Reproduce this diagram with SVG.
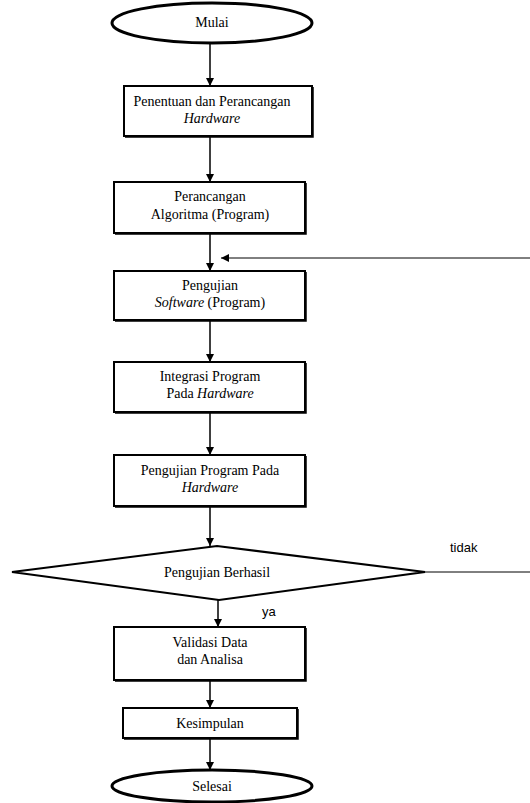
<svg xmlns="http://www.w3.org/2000/svg" width="530" height="803" viewBox="0 0 530 803">
  <style>
    .box { fill: #fff; stroke: #000; stroke-width: 2; }
    .shade { fill: none; stroke: #000; stroke-width: 1.5; }
    .term { fill: #fff; stroke: #000; stroke-width: 3; }
    .dec { fill: #fff; stroke: #000; stroke-width: 2; }
    .lbl { font-family: "Liberation Serif", "Times New Roman", Times, serif; font-size: 14px; fill: #000; text-anchor: middle; }
    .it { font-style: italic; }
    .note { font-family: "Liberation Sans", Arial, sans-serif; font-size: 13px; fill: #000; }
    .edge { fill: none; stroke: #000; stroke-width: 1.5; }
    .thin { fill: none; stroke: #000; stroke-width: 1; }
  </style>
  <defs>
    <marker id="arr" viewBox="0 0 10 10" refX="10" refY="5" markerWidth="8" markerHeight="8" markerUnits="userSpaceOnUse" orient="auto">
      <path d="M0,0 L10,5 L0,10 z" fill="#000"/>
    </marker>
  </defs>

  <!-- connectors -->
  <g id="connectors">
    <line class="edge" x1="210" y1="44" x2="210" y2="86" marker-end="url(#arr)"/>
    <line class="edge" x1="210" y1="137" x2="210" y2="182" marker-end="url(#arr)"/>
    <line class="edge" x1="210" y1="234" x2="210" y2="271" marker-end="url(#arr)"/>
    <line class="thin" x1="530" y1="258" x2="221" y2="258" marker-end="url(#arr)"/>
    <line class="edge" x1="210" y1="321" x2="210" y2="362" marker-end="url(#arr)"/>
    <line class="edge" x1="210" y1="413" x2="210" y2="455" marker-end="url(#arr)"/>
    <line class="edge" x1="210" y1="507" x2="210" y2="546" marker-end="url(#arr)"/>
    <line class="thin" x1="425" y1="572" x2="530" y2="572"/>
    <line class="edge" x1="218" y1="600" x2="218" y2="627" marker-end="url(#arr)"/>
    <line class="edge" x1="210" y1="681" x2="210" y2="708" marker-end="url(#arr)"/>
    <line class="edge" x1="210" y1="739" x2="210" y2="770" marker-end="url(#arr)"/>
    <text class="note" x="450" y="552">tidak</text>
    <text class="note" x="262" y="616">ya</text>
  </g>

  <!-- start -->
  <g id="mulai">
    <ellipse class="term" cx="212" cy="23" rx="100" ry="20"/>
    <text class="lbl" x="212" y="27">Mulai</text>
  </g>

  <g id="hardware">
    <rect class="box" x="124" y="86" width="188" height="50"/>
    <polyline class="shade" points="313,87 313,137 125,137"/>
    <text class="lbl" x="212" y="106">Penentuan dan Perancangan</text>
    <text class="lbl it" x="212" y="123">Hardware</text>
  </g>

  <g id="algoritma">
    <rect class="box" x="114" y="182" width="191" height="51"/>
    <polyline class="shade" points="306,183 306,234 115,234"/>
    <text class="lbl" x="210" y="201">Perancangan</text>
    <text class="lbl" x="210" y="219">Algoritma (Program)</text>
  </g>

  <g id="uji-software">
    <rect class="box" x="114" y="271" width="191" height="49"/>
    <polyline class="shade" points="306,272 306,321 115,321"/>
    <text class="lbl" x="210" y="290">Pengujian</text>
    <text class="lbl" x="210" y="307"><tspan class="it">Software</tspan> (Program)</text>
  </g>

  <g id="integrasi">
    <rect class="box" x="114" y="362" width="191" height="50"/>
    <polyline class="shade" points="306,363 306,413 115,413"/>
    <text class="lbl" x="210" y="381">Integrasi Program</text>
    <text class="lbl" x="210" y="398">Pada <tspan class="it">Hardware</tspan></text>
  </g>

  <g id="uji-hardware">
    <rect class="box" x="114" y="455" width="191" height="51"/>
    <polyline class="shade" points="306,456 306,507 115,507"/>
    <text class="lbl" x="210" y="475">Pengujian Program Pada</text>
    <text class="lbl it" x="210" y="492">Hardware</text>
  </g>

  <g id="berhasil">
    <polygon class="dec" points="12,572 217,546 425,572 219,600"/>
    <text class="lbl" x="217" y="577">Pengujian Berhasil</text>
  </g>

  <g id="validasi">
    <rect class="box" x="114" y="627" width="191" height="53"/>
    <polyline class="shade" points="306,628 306,681 115,681"/>
    <text class="lbl" x="210" y="647">Validasi Data</text>
    <text class="lbl" x="210" y="664">dan Analisa</text>
  </g>

  <g id="kesimpulan">
    <rect class="box" x="123" y="708" width="174" height="30"/>
    <polyline class="shade" points="298,709 298,739 124,739"/>
    <text class="lbl" x="210" y="728">Kesimpulan</text>
  </g>

  <!-- end -->
  <g id="selesai">
    <ellipse class="term" cx="212" cy="786" rx="100" ry="16"/>
    <text class="lbl" x="212" y="791">Selesai</text>
  </g>
</svg>
